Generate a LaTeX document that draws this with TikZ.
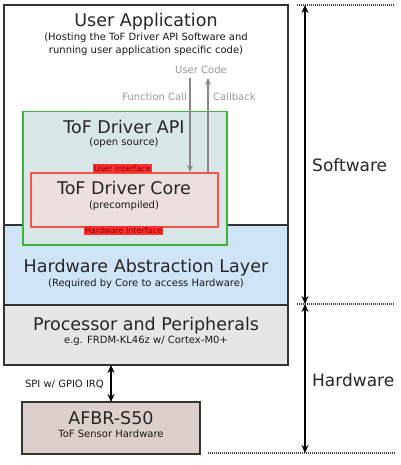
\documentclass[tikz,border=0pt]{standalone}
\usepackage{fontspec}
\setmainfont{DejaVu Sans}
\usetikzlibrary{arrows.meta}
\definecolor{frame}{HTML}{333333}
\definecolor{halblue}{HTML}{CFE4F7}
\definecolor{procgray}{HTML}{E6E6E6}
\definecolor{apifill}{HTML}{D8E6E8}
\definecolor{apigreen}{HTML}{3CB43C}
\definecolor{corefill}{HTML}{ECE0DE}
\definecolor{corered}{HTML}{F2584A}
\definecolor{lblred}{HTML}{FF3030}
\definecolor{lbltext}{HTML}{800000}
\definecolor{sensfill}{HTML}{DCD0CC}
\definecolor{txtgray}{HTML}{999999}
\definecolor{arrgray}{HTML}{888888}
\tikzset{
  layer/.style={draw=frame, line width=1.2pt, anchor=north west, inner sep=0pt, outer sep=0pt},
  title/.style={font=\fontsize{17.5}{20}\selectfont, text=black!85, inner sep=0pt},
  sub/.style={font=\fontsize{10}{11}\selectfont, text=black!90, inner sep=0pt},
  lbl/.style={fill=lblred, text=lbltext, font=\fontsize{8}{8}\selectfont, inner xsep=1.5pt, inner ysep=0.5pt, minimum height=8.5pt},
  graytxt/.style={font=\fontsize{10}{11}\selectfont, text=txtgray, inner sep=0pt},
  grayarrow/.style={draw=arrgray, line width=1.3pt, -{Stealth[length=7pt,width=6pt]}},
  blackarrow/.style={draw=black, line width=1.3pt, {Stealth[length=8pt,width=7pt]}-{Stealth[length=8pt,width=7pt]}},
  dots/.style={draw=black!75, line width=1.4pt, dash pattern=on 1pt off 1pt},
}
\begin{document}
\begin{tikzpicture}[x=1pt,y=-1pt]
\useasboundingbox (0,0) rectangle (400,465);
% layers
\node[layer, fill=white, minimum width=284pt, minimum height=220pt] (ua) at (4,5) {};
\node[layer, fill=halblue, minimum width=284pt, minimum height=80pt] (hal) at (4,225) {};
\node[layer, fill=procgray, minimum width=284pt, minimum height=60pt] (proc) at (4,305) {};
% driver API and core
\node[draw=apigreen, fill=apifill, line width=1.5pt, anchor=north west, inner sep=0pt, minimum width=204pt, minimum height=133pt] (api) at (22,111) {};
\node[draw=corered, fill=corefill, line width=1.5pt, anchor=north west, inner sep=0pt, minimum width=187pt, minimum height=54pt] (core) at (30,172) {};
% texts in user application
\node[title] (uat) at (146,22) {User Application};
\node[sub] (uas1) at (146,38) {(Hosting the ToF Driver API Software and};
\node[sub] (uas2) at (146,51) {running user application specific code)};
\node[graytxt] (uc) at (201,70) {User Code};
\node[graytxt, anchor=east] (fc) at (187,97) {Function Call};
\node[graytxt, anchor=west] (cb) at (213,97) {Callback};
\coordinate (fctop) at (190,78);
\coordinate (cbtop) at (208,78);
\draw[grayarrow] (fctop) -- (fctop |- core.north);
\draw[grayarrow] (cbtop |- core.north) -- (cbtop);
\node[title] (apit) at (124,127) {ToF Driver API};
\node[sub] (apis) at (124,143) {(open source)};
\node[lbl] (ui) at (122.5,168.5) {User Interface};
\node[title] (coret) at (124,188) {ToF Driver Core};
\node[sub] (cores) at (124,206) {(precompiled)};
\node[lbl] (hi) at (123.5,230.5) {Hardware Interface};
\node[title] (halt) at (146,268) {Hardware Abstraction Layer};
\node[sub] (hals) at (146,284) {(Required by Core to access Hardware)};
\node[title] (proct) at (146,326) {Processor and Peripherals};
\node[sub] (procs) at (146,341) {e.g. FRDM-KL46z w/ Cortex-M0+};
% sensor
\node[layer, fill=sensfill, minimum width=178pt, minimum height=52pt] (sens) at (22,402) {};
\node[title] (senst) at (111,418) {AFBR-S50};
\node[sub] (senss) at (111,434) {ToF Sensor Hardware};
\coordinate (spix) at (111,0);
\draw[blackarrow] (spix |- proc.south) -- (spix |- sens.north);
\node[sub, anchor=east] (spi) at (104,384) {SPI w/ GPIO IRQ};
% right side
\coordinate (dtop) at (297,5);
\coordinate (dtopR) at (395,5);
\coordinate (dmid) at (297,304);
\coordinate (dmidR) at (395,304);
\coordinate (dbot) at (208,453);
\coordinate (dbotR) at (395,453);
\draw[dots] (dtop) -- (dtopR);
\draw[dots] (dmid) -- (dmidR);
\draw[dots] (dbot) -- (dbotR);
\coordinate (ax) at (305,0);
\draw[blackarrow] (ax |- dtop) -- (ax |- dmid);
\draw[blackarrow] (ax |- dmid) -- (ax |- dbot);
\node[title, anchor=west, font=\fontsize{17}{20}\selectfont] (sw) at (312,165) {Software};
\node[title, anchor=west, font=\fontsize{17}{20}\selectfont] (hw) at (312,380) {Hardware};
\end{tikzpicture}
\end{document}
